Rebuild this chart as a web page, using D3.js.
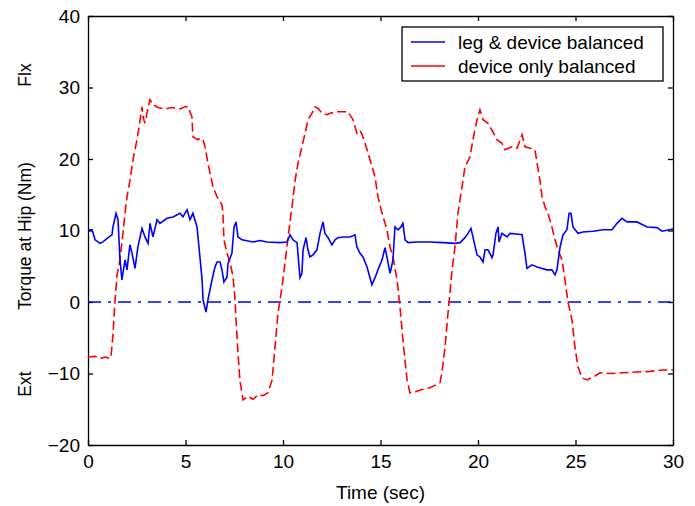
<!DOCTYPE html>
<html lang="en">
<head>
  <meta charset="UTF-8" />
  <title>Torque at Hip</title>
  <script src="https://d3js.org/d3.v7.min.js"></script>
  <style>
    html, body {
      margin: 0;
      padding: 0;
      background: #fff;
    }
    svg text {
      font-family: Arial, "Liberation Sans", sans-serif;
      fill: #000;
    }
  </style>
</head>
<body>
  <svg id="chart" width="695" height="506"></svg>

  <script>
    // [time (sec), torque (Nm)]
    const legDeviceBalanced = [
      [0, 10.1], [0.21, 10.1], [0.36, 8.7], [0.62, 8.2], [0.77, 8.4], [1.03, 9.0],
      [1.23, 9.4], [1.28, 10.5], [1.44, 12.4], [1.54, 11.5], [1.64, 5.9], [1.74, 3.1],
      [1.79, 4.0], [1.9, 5.9], [2.0, 4.5], [2.15, 8.0], [2.26, 6.8], [2.41, 4.7],
      [2.56, 7.7], [2.77, 10.3], [2.92, 9.1], [3.08, 8.2], [3.18, 11.0], [3.33, 9.1],
      [3.54, 11.5], [3.69, 11.0], [4.05, 11.7], [4.36, 11.9], [4.72, 12.4], [4.87, 11.9],
      [5.08, 12.9], [5.23, 11.5], [5.38, 12.4], [5.59, 10.5], [5.74, 6.3], [5.85, 3.1],
      [5.9, 0.3], [6.05, -1.4], [6.15, 0.3], [6.36, 3.1], [6.51, 4.9], [6.62, 5.6],
      [6.77, 5.6], [6.87, 4.5], [6.97, 2.8], [7.13, 3.5], [7.18, 5.4], [7.38, 6.8],
      [7.49, 10.5], [7.59, 11.2], [7.69, 9.1], [7.9, 8.7], [8.46, 8.4], [8.82, 8.6],
      [9.18, 8.4], [9.85, 8.3], [10.21, 8.4], [10.36, 9.4], [10.51, 8.7], [10.72, 8.3],
      [10.87, 3.4], [10.97, 4.0], [11.03, 7.3], [11.18, 9.0], [11.28, 7.3], [11.38, 6.3],
      [11.54, 6.6], [11.74, 7.3], [11.9, 9.6], [12.05, 11.2], [12.15, 9.6], [12.31, 9.0],
      [12.51, 8.0], [12.67, 8.7], [12.82, 9.0], [13.08, 9.1], [13.44, 9.1], [13.69, 9.4],
      [13.79, 7.7], [13.95, 6.8], [14.1, 6.3], [14.31, 4.9], [14.46, 3.4], [14.56, 2.4],
      [14.72, 3.4], [14.87, 4.5], [15.08, 5.9], [15.23, 7.6], [15.33, 6.3], [15.49, 4.0],
      [15.64, 5.9], [15.74, 10.5], [15.9, 10.1], [16.05, 10.5], [16.15, 11.0], [16.26, 8.7],
      [16.41, 8.3], [16.87, 8.4], [17.54, 8.4], [18.21, 8.3], [18.82, 8.2], [19.08, 8.3],
      [19.33, 9.0], [19.49, 9.6], [19.64, 10.3], [19.74, 9.1], [19.95, 6.6], [20.1, 6.3],
      [20.26, 5.6], [20.36, 7.3], [20.51, 7.3], [20.72, 6.2], [20.77, 6.6], [20.92, 9.6],
      [21.03, 10.5], [21.08, 8.4], [21.23, 9.6], [21.49, 9.1], [21.64, 9.6], [22.0, 9.5],
      [22.26, 9.4], [22.41, 6.8], [22.51, 4.7], [22.77, 5.2], [23.03, 4.9], [23.28, 4.7],
      [23.54, 4.5], [23.79, 4.5], [23.95, 3.8], [24.05, 4.5], [24.21, 7.7], [24.36, 9.4],
      [24.56, 10.1], [24.67, 12.4], [24.77, 12.4], [24.87, 10.5], [25.13, 9.6], [25.38, 9.8],
      [25.9, 9.9], [26.41, 10.1], [26.87, 10.1], [27.13, 11.0], [27.38, 11.7], [27.64, 11.2],
      [28.15, 11.2], [28.67, 10.5], [29.18, 10.4], [29.44, 9.9], [30.0, 10.2]
    ];

    const deviceOnlyBalanced = [
      [0, -7.7], [0.36, -7.6], [0.62, -7.9], [0.87, -7.7], [1.13, -7.9], [1.18, -7.6],
      [1.28, -4.6], [1.38, 0], [1.49, 3.8], [1.64, 5.9], [1.79, 9.6], [1.9, 12.5],
      [2.0, 14.7], [2.15, 17.0], [2.31, 19.9], [2.51, 22.7], [2.62, 24.5], [2.77, 27.3],
      [2.82, 25.9], [2.92, 25.0], [3.03, 26.5], [3.18, 28.3], [3.33, 27.6], [3.59, 27.2],
      [3.95, 27.0], [4.31, 27.2], [4.72, 27.0], [4.97, 27.3], [5.13, 27.3], [5.33, 25.9],
      [5.38, 23.1], [5.64, 22.7], [5.74, 22.9], [5.9, 22.7], [6.0, 21.7], [6.15, 19.4],
      [6.26, 18.0], [6.41, 16.1], [6.62, 14.7], [6.87, 13.6], [6.92, 12.4], [6.97, 8.7],
      [7.13, 6.8], [7.28, 5.6], [7.44, 3.5], [7.54, 0.3], [7.59, -2.5], [7.69, -7.0],
      [7.79, -11.0], [7.95, -13.7], [8.21, -13.2], [8.46, -13.6], [8.72, -13.0], [8.97, -13.1],
      [9.23, -12.7], [9.44, -10.9], [9.59, -6.3], [9.74, -1.6], [9.95, 2.1], [10.1, 5.4],
      [10.26, 9.1], [10.46, 13.3], [10.62, 17.0], [10.77, 19.4], [10.97, 21.7], [11.13, 23.6],
      [11.28, 25.5], [11.49, 26.4], [11.64, 27.3], [11.79, 27.1], [12.0, 26.4], [12.26, 26.2],
      [12.41, 26.4], [12.77, 26.6], [13.33, 26.6], [13.59, 25.5], [13.79, 23.6], [13.95, 24.0],
      [14.1, 23.1], [14.31, 21.3], [14.46, 19.9], [14.72, 17.5], [14.87, 14.7], [15.08, 12.4],
      [15.33, 10.1], [15.49, 7.7], [15.64, 6.3], [15.85, 3.1], [16.0, -0.7], [16.15, -5.3],
      [16.36, -10.9], [16.51, -12.7], [16.77, -12.6], [17.03, -12.3], [17.54, -12.0], [18.05, -11.3],
      [18.15, -9.9], [18.31, -6.3], [18.46, -1.6], [18.67, 4.5], [18.82, 7.7], [18.97, 12.4],
      [19.18, 16.1], [19.33, 18.9], [19.59, 20.3], [19.74, 22.7], [19.95, 25.5], [20.1, 26.9],
      [20.26, 25.5], [20.51, 25.0], [20.72, 24.0], [20.97, 22.7], [21.23, 22.2], [21.38, 21.3],
      [21.74, 21.7], [22.0, 21.5], [22.26, 23.4], [22.41, 21.7], [22.67, 21.5], [22.92, 21.3],
      [23.03, 19.4], [23.18, 17.0], [23.28, 14.7], [23.44, 13.3], [23.59, 12.4], [23.79, 10.5],
      [23.95, 8.7], [24.1, 7.3], [24.31, 5.9], [24.46, 3.1], [24.62, -0.1], [24.82, -2.5],
      [24.97, -6.3], [25.13, -9.1], [25.33, -10.6], [25.59, -10.9], [25.9, -10.5], [26.26, -9.9],
      [26.77, -10.0], [27.44, -9.9], [28.15, -9.8], [28.82, -9.7], [29.49, -9.5], [30.0, -9.5]
    ];

    const xTicks = [0, 5, 10, 15, 20, 25, 30];
    const yTicks = [-20, -10, 0, 10, 20, 30, 40];
    const legendLabels = ["leg & device balanced", "device only balanced"];

    const svg = d3.select("#chart");
    const margin = { top: 16, right: 22, bottom: 61, left: 88 };
    const width = 695 - margin.left - margin.right;
    const height = 506 - margin.top - margin.bottom;

    const g = svg.append("g")
      .attr("transform", `translate(${margin.left},${margin.top})`);

    const x = d3.scaleLinear().domain([0, 30]).range([0, width]);
    const y = d3.scaleLinear().domain([-20, 40]).range([height, 0]);

    // axes, ticks pointing inward like a matlab box
    const styleAxis = sel => {
      sel.selectAll("path.domain").attr("stroke", "#000").attr("stroke-width", 1.3);
      sel.selectAll(".tick line").attr("stroke", "#000").attr("stroke-width", 1.3);
      sel.selectAll(".tick text")
        .attr("font-size", "19px")
        .attr("font-family", "Arial, 'Liberation Sans', sans-serif");
    };

    g.append("g")
      .attr("transform", `translate(0,${height})`)
      .call(d3.axisBottom(x).tickValues(xTicks).tickSizeInner(-5).tickSizeOuter(0).tickPadding(10))
      .call(styleAxis);

    g.append("g")
      .call(d3.axisTop(x).tickValues(xTicks).tickSizeInner(-5).tickSizeOuter(0).tickFormat(""))
      .call(styleAxis);

    g.append("g")
      .call(d3.axisLeft(y).tickValues(yTicks).tickSizeInner(-5).tickSizeOuter(0).tickPadding(8))
      .call(styleAxis);

    g.append("g")
      .attr("transform", `translate(${width},0)`)
      .call(d3.axisRight(y).tickValues(yTicks).tickSizeInner(-5).tickSizeOuter(0).tickFormat(""))
      .call(styleAxis);

    // zero reference, dash-dot
    g.append("line")
      .attr("x1", x(0)).attr("x2", x(30))
      .attr("y1", y(0)).attr("y2", y(0))
      .attr("stroke", "#0000ff")
      .attr("stroke-width", 1.5)
      .attr("stroke-dasharray", "13,7,3,7");

    const line = d3.line()
      .x(d => x(d[0]))
      .y(d => y(d[1]));

    g.append("path")
      .datum(deviceOnlyBalanced)
      .attr("fill", "none")
      .attr("stroke", "#ff0000")
      .attr("stroke-width", 1.6)
      .attr("stroke-dasharray", "9,4")
      .attr("d", line);

    g.append("path")
      .datum(legDeviceBalanced)
      .attr("fill", "none")
      .attr("stroke", "#0000ff")
      .attr("stroke-width", 1.6)
      .attr("d", line);

    // legend
    const legend = svg.append("g").attr("transform", "translate(402,27)");
    legend.append("rect")
      .attr("width", 261).attr("height", 54)
      .attr("fill", "#fff")
      .attr("stroke", "#000")
      .attr("stroke-width", 1.3);

    const legendColors = ["#0000ff", "#ff0000"];
    legendLabels.forEach((label, i) => {
      const yy = 15 + i * 24;
      legend.append("line")
        .attr("x1", 9).attr("x2", 43)
        .attr("y1", yy).attr("y2", yy)
        .attr("stroke", legendColors[i])
        .attr("stroke-width", 1.6);
      legend.append("text")
        .attr("x", 56).attr("y", yy)
        .attr("dy", "0.35em")
        .attr("font-size", "19px")
        .text(label);
    });

    // axis titles
    svg.append("text")
      .attr("x", margin.left + x(15))
      .attr("y", 499)
      .attr("text-anchor", "middle")
      .attr("font-size", "19px")
      .text("Time (sec)");

    const yTitle = (text, cy) => svg.append("text")
      .attr("transform", `translate(31,${cy}) rotate(-90)`)
      .attr("text-anchor", "middle")
      .attr("font-size", "17.5px")
      .text(text);

    yTitle("Flx", 75);
    yTitle("Torque at Hip (Nm)", 236);
    yTitle("Ext", 384);
  </script>
</body>
</html>
